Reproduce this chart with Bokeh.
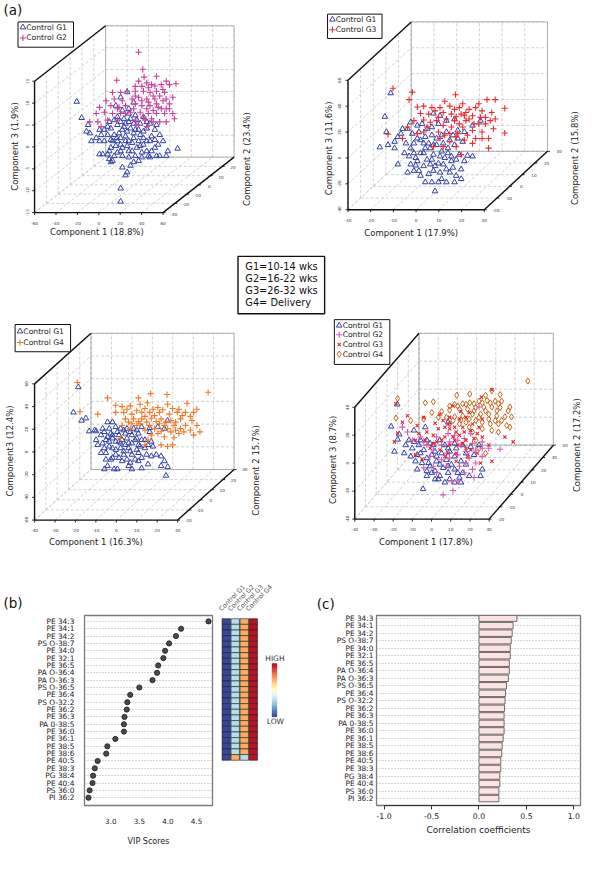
import numpy as np
from bokeh.plotting import figure
from bokeh.layouts import column, row
from bokeh.models import Range1d, FixedTicker, NumeralTickFormatter, ColumnDataSource, LinearColorMapper
from bokeh.core.properties import value
from bokeh.transform import transform
from bokeh.embed import file_html
from bokeh.resources import INLINE

FONT = value("DejaVu Sans")

# ---------------------------------------------------------------- data (b), (c)
lipids = ["PE 34:3", "PE 34:1", "PE 34:2", "PS O-38:7", "PE 34:0", "PE 32:1", "PE 36:5",
          "PA O-36:4", "PA O-36:3", "PS O-36:5", "PE 36:4", "PS O-32:2", "PE 36:2", "PE 36:3",
          "PA 0-38:5", "PE 36:0", "PE 36:1", "PE 38:5", "PE 38:6", "PE 40:5", "PE 38:3",
          "PG 38:4", "PE 40:4", "PS 36:0", "PI 36:2"]
vip_scores = [4.71, 4.23, 4.14, 4.02, 3.95, 3.92, 3.83, 3.81, 3.73, 3.50, 3.34, 3.29, 3.28,
              3.24, 3.23, 3.23, 3.08, 2.94, 2.92, 2.77, 2.72, 2.69, 2.68, 2.63, 2.61]
corr_coef = [0.40, 0.36, 0.35, 0.34, 0.33, 0.33, 0.32, 0.32, 0.31, 0.29, 0.28, 0.275, 0.27,
             0.265, 0.265, 0.265, 0.255, 0.245, 0.24, 0.23, 0.23, 0.22, 0.22, 0.21, 0.21]
vip_ticks = [3.0, 3.5, 4.0, 4.5]
corr_ticks = [-1.0, -0.5, 0.0, 0.5, 1.0]
heat_groups = ["Control G1", "Control G2", "Control G3", "Control G4"]
# relative level (0 = low, 1 = high)
heat_g1 = [0.03, 0.03, 0.03, 0.03, 0.03, 0.03, 0.03, 0.03, 0.03, 0.03, 0.03, 0.03, 0.03,
           0.03, 0.03, 0.03, 0.03, 0.03, 0.03, 0.03, 0.03, 0.03, 0.03, 0.03, 0.03]
heat_g2 = [0.32, 0.32, 0.32, 0.32, 0.32, 0.32, 0.32, 0.32, 0.32, 0.32, 0.32, 0.32, 0.32,
           0.32, 0.32, 0.32, 0.32, 0.32, 0.32, 0.32, 0.32, 0.32, 0.32, 0.32, 0.70]
heat_g3 = [0.70, 0.70, 0.70, 0.70, 0.70, 0.70, 0.70, 0.70, 0.70, 0.70, 0.70, 0.70, 0.70,
           0.70, 0.70, 0.70, 0.70, 0.70, 0.70, 0.70, 0.70, 0.70, 0.70, 0.70, 0.32]
heat_g4 = [0.96, 0.96, 0.96, 0.96, 0.96, 0.96, 0.96, 0.96, 0.96, 0.96, 0.96, 0.96, 0.96,
           0.96, 0.96, 0.96, 0.96, 0.96, 0.96, 0.96, 0.96, 0.96, 0.96, 0.96, 0.96]

# ---------------------------------------------------------------- data (a): scores (Component 1, Component 3)
p1_g1 = [(-53.8, 4.0), (-49.2, 0.3), (-6.7, 6.2), (-12.8, 5.0), (-17.3, 3.1), (-0.6, 3.8), (-23.4, -0.6),
         (-15.8, 0.5), (-9.7, 0.1), (-5.2, 1.3), (0.9, 0.9), (8.5, 0.5), (5.5, -1.0), (-0.6, -1.0),
         (-8.2, -1.0), (-15.8, -1.3), (-21.9, -2.1), (-11.2, -2.4), (-3.6, -2.1), (4.0, -2.4), (11.6, -2.1),
         (19.2, -2.4), (20.7, -1.3), (-43.2, -1.3), (-44.7, -2.8), (-41.6, -3.2), (-35.6, -4.3), (-32.5, -5.0),
         (-40.1, -5.0), (-29.5, -8.0), (-32.5, -8.0), (-23.4, -7.3), (-21.9, -4.7), (-18.8, -3.6), (-15.8, -5.0),
         (-12.8, -4.3), (-8.2, -3.9), (-5.2, -5.0), (-0.6, -4.3), (4.0, -5.0), (8.5, -4.3), (14.6, -5.0),
         (19.2, -4.7), (26.8, -5.0), (40.4, -6.7), (31.3, -7.3), (11.6, -7.3), (7.0, -7.6), (2.4, -6.5),
         (-2.1, -7.3), (-6.7, -6.1), (-11.2, -6.5), (-15.8, -7.6), (-18.8, -8.4), (-23.4, -9.1), (-20.4, -9.5),
         (-11.2, -8.4), (-5.2, -8.7), (0.9, -8.4), (7.0, -8.7), (13.1, -8.4), (20.7, -8.4), (23.7, -8.4),
         (-0.6, -9.8), (-3.6, -10.6), (-6.7, -12.1), (-8.2, -12.8), (-11.2, -11.0), (-12.8, -15.8), (-12.8, -18.8),
         (-21.9, -9.8), (22.2, -5.8), (16.1, -7.3), (8.5, -5.8), (-12.8, -5.8), (-3.6, 0.1), (11.6, -0.6),
         (-28.0, -2.4), (-9.7, -1.7), (-6.7, -2.8), (-14.3, -3.2), (-0.6, -3.2), (5.5, -3.6),
         (-18.8, -0.2), (-12.8, -0.6), (-5.2, -0.6), (2.4, -0.2), (14.6, -1.0), (-24.9, -3.6), (-20.4, -5.0),
         (-17.3, -6.1), (-8.2, -5.0), (-2.1, -5.4), (11.6, -5.0), (16.1, -3.9), (5.5, -6.1), (-5.2, -7.3),
         (-12.8, -7.3), (-21.9, -6.5), (-28.0, -5.0), (-31.0, -3.6), (-24.9, -1.7), (-32.5, -2.4), (19.2, -6.5),
         (14.6, -8.7), (29.8, -8.4), (4.0, -9.5), (-24.9, -8.0), (-16.4, -4.3), (0.9, -2.4), (8.5, -2.8),
         (23.7, -3.6), (-5.2, 2.4), (-11.2, 2.0)]
p1_g2 = [(4.0, 15.3), (7.9, 11.4), (-16.4, 8.9), (9.1, 9.6), (20.7, 9.8), (29.8, 8.7), (38.9, 8.1), (11.6, 8.3),
         (0.9, 7.5), (7.0, 7.5), (16.1, 7.9), (25.2, 7.9), (32.8, 7.9), (-20.4, 6.1), (-12.8, 6.1), (-6.7, 6.4),
         (0.9, 6.4), (8.5, 6.4), (14.6, 6.1), (20.7, 6.4), (28.3, 6.1), (35.9, 5.0), (-26.4, 4.2), (-18.8, 4.6),
         (-11.2, 4.2), (-2.1, 4.6), (4.0, 5.0), (11.6, 4.6), (19.2, 4.6), (26.8, 4.2), (32.8, 3.5), (-32.5, 2.7),
         (-21.9, 3.1), (-14.3, 2.7), (-8.2, 3.1), (0.9, 3.5), (7.0, 3.1), (14.6, 3.1), (22.2, 2.7), (29.8, 2.4),
         (35.9, 1.3), (37.4, 0.1), (-35.6, 1.3), (-28.0, 1.6), (-20.4, 1.3), (-12.8, 1.3), (-3.6, 1.6), (5.5, 1.6),
         (13.1, 1.3), (20.7, 1.3), (28.3, 1.3), (-41.6, -0.6), (-34.0, -0.6), (-24.9, -0.2), (-15.8, -0.2),
         (0.9, -0.2), (10.0, -0.2), (17.6, -0.6), (23.7, -0.6), (29.8, -0.6), (-31.0, -1.7), (11.6, -1.7),
         (2.4, -1.3), (4.0, 8.7), (13.1, 7.2), (19.2, 7.6), (26.7, 6.8), (0.9, 5.3), (7.0, 4.2), (13.1, 3.9),
         (17.6, 5.3), (23.7, 5.3), (29.8, 4.6), (11.6, 2.4), (17.6, 2.0), (25.2, 2.4), (8.5, 0.5), (16.1, 0.1),
         (-8.2, 1.3), (-15.8, 2.4), (32.8, 2.4), (-0.6, 2.4), (20.7, 3.5)]
p2_g1 = [(-25.1, 27.5), (-27.7, 9.3), (-27.0, -2.5), (-29.9, -14.3), (-26.3, -12.5), (-23.4, -10.0), (-22.0, -6.3),
         (-19.9, 0.0), (-17.7, 0.0), (-16.3, 5.0), (-13.4, 2.5), (-11.3, 3.8), (-9.1, 0.0), (-7.0, 1.3),
         (-4.1, 3.8), (-0.6, 6.3), (3.0, 7.5), (-3.4, 10.0), (-6.3, 11.8), (-22.0, -27.5), (-17.0, -21.3),
         (-14.1, -22.5), (-12.0, -18.8), (-9.9, -15.0), (-8.4, -11.3), (-6.3, -12.5), (-4.9, -7.5), (-12.0, -8.8),
         (-14.9, -11.3), (-16.3, -15.0), (-9.9, -6.3), (-7.0, -5.0), (-2.7, -5.0), (-0.6, -2.5), (2.3, -5.0),
         (4.4, -7.5), (3.0, -12.5), (0.1, -15.0), (-2.7, -17.5), (-6.3, -20.0), (-9.1, -23.8), (-10.6, -28.8),
         (-12.7, -32.5), (-14.9, -32.5), (-17.7, -33.8), (-14.1, -28.3), (-7.7, -27.5), (-4.1, -26.8),
         (-1.3, -22.5), (1.6, -21.3), (5.1, -20.0), (8.7, -20.8), (10.9, -21.3), (-8.4, -35.0), (-6.3, -32.5),
         (-3.4, -33.8), (-0.6, -31.3), (2.3, -30.0), (3.7, -36.3), (-9.9, -41.3), (-7.0, -41.3), (-2.7, -38.8),
         (-0.6, -41.3), (3.0, -41.3), (5.9, -38.8), (-5.6, -48.3), (1.6, -25.0), (-18.4, -11.3), (6.6, -10.0),
         (-12.7, -2.5), (7.3, -2.5), (10.9, 2.5), (14.4, 6.3), (4.4, -1.3),
         (-15.6, -3.8), (-13.4, -7.5), (-10.6, -11.3), (-7.7, -15.0), (-4.9, -12.5), (-2.0, -11.3), (0.9, -8.8),
         (-10.6, -18.8), (-7.0, -23.8), (-3.4, -21.3), (0.1, -18.8), (3.7, -23.8), (7.3, -25.0), (-13.4, -25.0),
         (-16.3, -27.5), (-5.6, -28.8), (-2.0, -27.5), (0.9, -33.8), (5.9, -31.3), (-4.1, -41.3), (-12.0, -36.3),
         (-14.9, -18.8), (-19.1, -18.8), (-23.4, -15.0), (-20.6, -3.8)]
p2_g3 = [(-24.1, 31.3), (-15.6, 28.3), (-17.0, 22.5), (-1.3, 21.3), (3.4, 26.3), (6.6, 19.3), (13.7, 19.3),
         (17.3, 22.5), (20.9, 22.5), (25.1, 15.8), (-13.4, 16.8), (-10.6, 17.5), (-7.0, 16.3), (-3.4, 16.3),
         (0.9, 17.5), (5.1, 16.3), (9.4, 15.0), (15.1, 13.8), (19.4, 12.5), (-12.0, 11.8), (-8.4, 11.3),
         (-2.0, 12.5), (1.6, 11.3), (5.9, 11.3), (10.9, 10.0), (14.4, 8.8), (18.7, 6.3), (-14.9, 6.3),
         (-10.6, 6.8), (-4.9, 6.3), (-0.6, 7.5), (3.0, 6.3), (8.0, 6.3), (11.6, 3.8), (16.6, 3.8), (25.1, -3.3),
         (-9.1, 1.3), (-2.0, 2.5), (1.6, 1.3), (6.6, 1.3), (10.9, -1.3), (15.1, -2.5), (18.0, -7.5),
         (-26.3, -4.3), (-19.9, -7.5), (-10.6, -2.5), (-4.1, -2.5), (0.9, -3.8), (4.4, -3.8), (8.7, -5.0),
         (12.3, -7.5), (-3.4, -7.5), (0.9, -10.0), (-2.0, -13.8), (3.7, -13.8), (18.0, -15.0), (5.9, -20.0),
         (-6.3, -13.8), (-13.4, -3.8), (-17.7, 1.3), (20.1, 0.0), (7.3, 10.0), (3.7, 9.3),
         (-5.6, 13.8), (3.0, 15.0), (12.3, 16.3), (8.0, 12.5), (13.7, 3.8), (5.1, 3.8), (-4.1, 8.8), (-7.7, 5.0),
         (9.4, 7.5), (16.6, 8.8), (3.7, -6.3), (7.3, -8.8), (10.9, -11.3), (15.1, -7.5), (-1.3, -5.0), (20.9, 7.5)]
p3_g1 = [(-32.4, 34.9), (-34.8, 12.6), (-30.8, 5.4), (-28.7, 7.4), (-27.1, -4.0), (-24.4, -3.1), (-23.7, -4.0),
         (-18.1, 4.0), (-15.7, 4.0), (-20.5, -1.7), (-17.3, -1.7), (-14.1, -0.3), (-11.7, -1.7), (-8.6, -1.7),
         (-5.4, -1.7), (-1.4, -0.3), (2.5, -1.1), (6.5, -0.3), (11.3, 5.4), (9.7, -1.7), (-21.3, -7.4),
         (-18.1, -8.9), (-15.7, -7.4), (-12.5, -7.4), (-9.4, -6.0), (-6.2, -7.4), (-3.0, -6.0), (-20.5, -14.6),
         (-17.3, -13.1), (-14.1, -13.1), (-11.0, -11.7), (-7.8, -14.6), (-4.6, -11.7), (-1.4, -11.7), (3.3, -13.1),
         (-19.7, -18.9), (-15.7, -18.9), (-11.7, -18.9), (-7.8, -18.9), (-3.8, -20.3), (0.2, -18.9), (4.1, -17.4),
         (-18.9, -23.1), (-14.1, -24.6), (-10.2, -24.6), (-6.2, -24.6), (-1.4, -27.4), (3.3, -26.0), (8.1, -26.0),
         (-16.5, -28.9), (-11.0, -30.3), (-7.0, -31.7), (-3.0, -30.3), (-19.7, -37.4), (-14.9, -37.4),
         (-13.3, -37.4), (-7.8, -34.6), (-6.2, -37.4), (-1.4, -36.6), (8.1, -34.6), (11.3, -35.4), (9.7, -30.3),
         (10.5, -43.1), (-18.1, -34.6), (-11.7, -14.6), (-8.6, -10.3), (-2.2, -17.4), (1.0, -24.6), (2.5, -4.6),
         (-3.8, -10.3), (-23.7, -11.7),
         (-19.7, -4.6), (-16.5, -6.0), (-13.3, -4.6), (-10.2, -3.1), (-7.0, -4.6), (-3.8, -3.1), (-18.9, -11.7),
         (-15.7, -10.3), (-12.5, -13.1), (-9.4, -16.0), (-6.2, -14.6), (-3.0, -16.0), (-17.3, -17.4),
         (-14.1, -20.3), (-10.2, -21.7), (-7.0, -21.7), (-3.0, -23.1), (-15.7, -27.4), (-12.5, -27.4),
         (-8.6, -28.9), (-4.6, -28.9), (1.7, -16.0), (0.2, -11.7), (5.7, -24.6), (-21.3, -23.1), (-22.9, -16.0),
         (-18.9, -28.9), (1.7, -33.1)]
p3_g4 = [(-32.9, 38.9), (-18.1, 25.4), (-3.0, 25.4), (3.0, 29.1), (11.0, 28.3), (-14.1, 18.9), (-11.0, 17.7),
         (-7.0, 18.3), (-2.2, 19.7), (1.4, 21.1), (6.5, 16.9), (11.3, 19.7), (16.8, 15.4), (20.8, 20.6),
         (25.6, 15.4), (31.1, 30.3), (-22.9, 11.1), (-31.6, 13.1), (-14.1, 12.6), (-10.2, 12.6), (-6.2, 11.1),
         (-1.4, 12.6), (2.5, 12.6), (7.3, 12.6), (12.1, 11.1), (16.0, 12.6), (20.0, 12.6), (24.0, 12.6),
         (-9.4, 6.9), (-5.4, 6.9), (-1.4, 6.9), (3.3, 7.4), (8.1, 6.9), (12.9, 5.4), (17.6, 6.9), (23.2, 5.4),
         (-11.0, 1.1), (-6.2, 2.6), (-2.2, 2.6), (2.5, 1.1), (7.3, 2.6), (11.3, -1.7), (15.2, -3.1), (19.2, -4.6),
         (22.4, -3.1), (27.1, -4.6), (24.0, -7.4), (-7.0, -1.7), (4.9, -1.7), (8.1, -4.0), (12.9, -4.6),
         (16.8, -6.0), (3.3, -7.4), (1.7, -11.7), (8.1, -16.0), (11.3, -17.4), (13.7, -16.0), (0.2, -16.0),
         (-11.7, -10.3), (-3.8, 1.1), (9.7, 1.1), (14.4, 1.1), (0.2, -3.1),
         (-8.6, 15.4), (-3.8, 14.0), (0.2, 16.0), (4.1, 15.4), (8.9, 14.9), (13.7, 16.0), (18.4, 9.7), (22.4, 9.1),
         (-7.8, 4.0), (-3.0, 4.6), (1.0, 4.0), (5.7, 4.6), (10.5, 4.0), (15.2, 4.0), (20.0, 1.1), (6.5, -6.0),
         (9.7, -8.9), (14.4, -9.7), (17.6, -1.7), (25.6, 1.1), (4.9, 9.7), (0.2, 9.1)]
p4_g1 = [(-37.8, -0.2), (-33.6, -5.8), (-34.4, -9.5), (-30.2, -13.5), (-36.1, -18.1), (-31.0, -19.3),
         (-26.8, -15.8), (-25.9, -11.2), (-23.4, -13.5), (-20.8, -17.0), (-24.2, -20.5), (-25.1, -25.1),
         (-21.7, -26.3), (-19.2, -22.8), (-16.6, -20.5), (-14.1, -21.6), (-11.5, -19.3), (-14.1, -25.1),
         (-17.5, -28.6), (-19.2, -32.1), (-14.9, -32.1), (-12.4, -35.6), (-8.1, -33.3), (-10.7, -29.8),
         (-6.4, -27.4), (-9.0, -24.0), (-4.7, -21.6), (-1.4, -25.1), (1.2, -27.4), (-3.1, -33.3), (-4.7, -40.2),
         (-1.4, -40.2), (-9.8, -40.2), (-14.9, -37.9), (-21.2, -44.9), (-16.6, -33.3), (-12.4, -10.0),
         (-15.8, -13.5), (-19.2, -10.0), (-8.1, -15.8), (-4.7, -12.3), (-0.5, -13.5), (3.7, -14.7), (8.0, -13.5),
         (5.4, -20.5), (9.7, -30.9), (8.8, -35.6), (-20.0, -0.7), (-8.1, 2.8), (-25.9, -3.0), (-34.6, 15.6),
         (-28.5, -10.0), (-22.5, -10.0), (-17.5, -12.3), (-14.9, -18.1), (-9.8, -13.5), (-7.3, -18.1),
         (-3.9, -15.8), (1.2, -19.3), (-27.6, -21.6), (-22.5, -19.3), (-18.3, -26.3), (-12.4, -27.4),
         (-8.1, -28.6), (-4.7, -30.9), (-0.5, -33.3), (2.9, -35.6), (-13.2, -37.9), (-7.3, -37.9), (-2.2, -36.7),
         (-19.2, -35.6), (-24.2, -30.9)]
p4_g2 = [(8.0, 13.7), (-31.9, -0.7), (-29.3, -4.2), (-22.5, -7.7), (-19.2, -13.5), (-15.8, -17.0), (-11.5, -13.5),
         (-7.3, -11.2), (-3.1, -10.0), (0.3, -8.8), (4.6, -12.3), (9.7, -15.8), (13.1, -15.8), (19.0, -16.5),
         (-11.5, -24.0), (-7.3, -22.8), (-3.1, -20.5), (2.9, -22.8), (6.3, -26.3), (0.3, -33.3), (4.6, -30.9),
         (-15.8, -28.6), (-20.8, -29.8), (-6.4, -39.1), (-3.1, -39.1), (5.4, -36.7), (-5.6, -46.0), (9.7, -11.2),
         (1.2, -18.1), (-9.0, -28.6), (-17.5, -21.6), (-26.8, -10.0), (3.7, -5.3), (-8.1, -5.3), (-10.7, -49.1),
         (-20.8, -11.2), (-14.1, -7.7), (-4.7, -6.5), (-1.4, -13.5), (6.3, -17.0), (-9.0, -19.3), (-14.1, -33.3),
         (-2.2, -28.6), (9.7, -21.6), (1.2, -26.3)]
p4_g3 = [(-35.3, 16.0), (-29.3, 7.4), (-31.9, 2.8), (-36.1, -11.2), (-34.4, -4.9), (-24.2, 0.5), (-20.8, 6.3),
         (-14.9, 2.1), (-10.7, 4.0), (-5.6, 14.4), (9.3, 20.7), (14.7, 26.0), (-2.2, 5.1), (1.2, 6.3),
         (-9.8, -0.7), (-7.3, -1.9), (-4.7, -0.7), (-0.5, -0.7), (3.7, -3.0), (7.1, -5.3), (-19.2, -4.2),
         (-15.8, -6.5), (-23.4, -5.3), (-25.1, -10.0), (-20.0, -10.0), (-14.1, -11.2), (-9.8, -7.7), (-5.6, -7.7),
         (-2.2, -6.5), (1.2, -10.0), (5.4, -8.8), (-7.3, -13.5), (-3.1, -13.5), (1.2, -15.8), (-17.5, -15.8),
         (-12.4, -17.0), (-8.1, -19.3), (-3.9, -19.3), (2.0, -21.6), (7.1, -19.3), (8.8, -26.3), (-3.9, -25.1),
         (14.7, -25.1), (25.8, -11.2), (21.5, -7.7), (-25.1, -20.5), (-21.7, -23.5), (9.7, 5.1), (-12.4, 8.6),
         (-1.4, 10.5), (-13.2, -1.9), (-8.1, 1.6), (-3.9, -4.2), (0.3, -4.2), (4.6, 1.6), (8.0, -0.7),
         (-11.5, -10.0), (-0.5, -12.3), (3.7, -17.0), (-9.8, -21.6), (-4.7, -10.0), (-15.8, -12.3), (9.7, -7.7),
         (13.1, -13.5), (-7.3, 6.3), (2.9, 9.8)]
p4_g4 = [(33.4, 32.3), (14.7, 25.3), (-3.6, 22.1), (3.2, 23.0), (11.4, 22.1), (19.0, 22.6), (-20.0, 16.7),
         (-15.8, 17.4), (-34.4, 19.8), (-4.7, 15.6), (-0.5, 16.0), (3.2, 16.7), (8.0, 17.9), (12.2, 18.4),
         (16.4, 17.9), (19.8, 17.9), (24.1, 13.7), (-16.6, 9.8), (-11.5, 10.5), (-7.3, 11.4), (-2.2, 12.1),
         (2.0, 12.1), (6.3, 13.3), (10.5, 13.7), (14.7, 13.7), (19.0, 13.3), (23.2, 10.9), (-35.3, 5.8),
         (-27.6, 4.0), (-20.8, 5.1), (-13.2, 6.3), (-9.0, 6.3), (-4.7, 6.7), (-0.5, 7.4), (4.6, 8.6), (8.8, 8.6),
         (13.1, 8.6), (17.3, 7.4), (21.5, 6.7), (24.9, 6.7), (1.2, 2.8), (6.3, 4.0), (9.7, 2.8), (13.9, 1.6),
         (18.1, 1.6), (22.4, 0.5), (9.7, -1.9), (14.7, -3.0), (18.1, -4.2), (4.6, -4.2), (6.3, -10.0),
         (8.0, -15.8), (11.4, -19.3), (24.1, -0.7), (2.9, -0.7), (-2.2, 1.6), (-7.3, 1.6),
         (-7.3, 14.4), (-3.1, 14.4), (1.2, 15.6), (5.4, 16.0), (9.7, 16.7), (13.9, 16.7), (18.1, 16.0),
         (-5.6, 4.0), (-1.4, 4.4), (2.9, 5.1), (8.0, 6.3), (13.1, 5.1), (16.4, 4.0), (19.8, 4.0), (11.4, 10.9),
         (17.3, 10.9), (5.4, 10.9)]
stage_key = ["G1=10-14 wks", "G2=16-22 wks", "G3=26-32 wks", "G4= Delivery"]

# ---------------------------------------------------------------- 3-D panel geometry (reference pixels)
PANELS = [
    dict(O=(35, 218), EX=132, EZ=135, ED=(73, -57), r1=(-60, 60), r2=(-30, 30), r3=(-15, 15),
         t1=[-60, -40, -20, 0, 20, 40, 60], t2=[-30, -20, -10, 0, 10, 20], t3=[-15, -10, -5, 0, 5, 10, 15],
         d1=11, d3=8, d2=(11, 1),
         titles=[("Component 1 (18.8%)", 99, 238, 0), ("Component 3 (1.9%)", 15, 150, 1),
                 ("Component 2 (23.4%)", 253, 163, 1)]),
    dict(O=(357, 215), EX=140, EZ=133, ED=(65, -60), r1=(-30, 30), r2=(-20, 30), r3=(-40, 60),
         t1=[-30, -20, -10, 0, 10, 20, 30], t2=[-20, -10, 0, 10, 20, 30], t3=[-40, -20, 0, 20, 40, 60],
         d1=11, d3=9, d2=(12, 0),
         titles=[("Component 1 (17.9%)", 422, 239, 0), ("Component 3 (11.6%)", 337, 152, 1),
                 ("Component 2 (15.8%)", 590, 162, 1)]),
    dict(O=(35, 534), EX=147, EZ=140, ED=(58, -52), r1=(-40, 30), r2=(-20, 30), r3=(-60, 60),
         t1=[-40, -30, -20, -10, 0, 10, 20, 30], t2=[-20, -10, 0, 10, 20, 30], t3=[-60, -40, -20, 0, 20, 40, 60],
         d1=10, d3=9, d2=(11, 0),
         titles=[("Component 1 (16.3%)", 98, 557, 0), ("Component3 (12.4%)", 10, 463, 1),
                 ("Component 2 15.7%)", 263, 483, 1)]),
    dict(O=(364, 533), EX=138, EZ=115, ED=(66, -76), r1=(-40, 30), r2=(-20, 40), r3=(-40, 40),
         t1=[-40, -30, -20, -10, 0, 10, 20, 30], t2=[-20, -10, 0, 10, 20, 30, 40], t3=[-40, -20, 0, 20, 40],
         d1=10, d3=8, d2=(12, 0),
         titles=[("Component 1 (17.8%)", 437, 557, 0), ("Component 3 (8.7%)", 342, 472, 1),
                 ("Component 2 (17.2%)", 592, 457, 1)]),
]

BLUE = "#3242A8"
STY = {
    "G1": dict(marker="triangle", size=5.6, line_color=BLUE, fill_color=None, line_width=1.0),
    "G2": dict(marker="cross", size=6.2, line_color="#C8409F", line_width=1.1),
    "G2b": dict(marker="cross", size=6.2, line_color="#D45BB8", line_width=1.1),
    "G3p": dict(marker="cross", size=6.2, line_color="#F02A30", line_width=1.1),
    "G3x": dict(marker="x", size=4.6, line_color="#E8262C", line_width=1.1),
    "G4p": dict(marker="cross", size=6.2, line_color="#F07828", line_width=1.1),
    "G4d": dict(marker="diamond", size=6.2, line_color="#C8661C", fill_color=None, line_width=1.0),
}


def project(P, c1, c2, c3):
    c1 = np.asarray(c1, float)
    c3 = np.asarray(c3, float)
    u = (c1 - P["r1"][0]) / (P["r1"][1] - P["r1"][0])
    v = (np.asarray(c2, float) - P["r2"][0]) / (P["r2"][1] - P["r2"][0])
    w = (c3 - P["r3"][0]) / (P["r3"][1] - P["r3"][0])
    ox, oy = P["O"]
    return ox + u * P["EX"] + v * P["ED"][0], oy - w * P["EZ"] + v * P["ED"][1]


def pt(P, a, b, c):
    x, y = project(P, a, b, c)
    return float(x), float(y)


def txt(p, x, y, s, size, color="#222222", align="left", baseline="middle", angle=0.0):
    p.text(x=[x], y=[y], text=[s], text_font=FONT, text_font_size=value(f"{size}px"),
           text_color=color, text_align=align, text_baseline=baseline, angle=angle)


def canvas(w, h, xr, yr):
    p = figure(width=w, height=h, x_range=xr, y_range=yr, output_backend="svg",
               toolbar_location=None, x_axis_location=None, y_axis_location=None,
               min_border=0, title=None)
    p.outline_line_color = None
    p.grid.visible = False
    return p


def draw_box(p, P):
    a0, a1 = P["r1"]
    b0, b1 = P["r2"]
    c0, c1 = P["r3"]
    segs = []
    for t in P["t1"]:
        segs.append((pt(P, t, b1, c0), pt(P, t, b1, c1)))     # back wall verticals
        segs.append((pt(P, t, b0, c0), pt(P, t, b1, c0)))     # floor depth lines
    for t in P["t3"]:
        segs.append((pt(P, a0, b1, t), pt(P, a1, b1, t)))     # back wall horizontals
        segs.append((pt(P, a0, b0, t), pt(P, a0, b1, t)))     # left wall depth lines
    for t in P["t2"]:
        segs.append((pt(P, a0, t, c0), pt(P, a0, t, c1)))     # left wall verticals
        segs.append((pt(P, a0, t, c0), pt(P, a1, t, c0)))     # floor horizontals
    p.multi_line([[s[0][0], s[1][0]] for s in segs], [[s[0][1], s[1][1]] for s in segs],
                 line_color="#c6c6c6", line_dash="3 2", line_width=0.8)
    back = [pt(P, a0, b1, c0), pt(P, a1, b1, c0), pt(P, a1, b1, c1), pt(P, a0, b1, c1), pt(P, a0, b1, c0)]
    p.line([q[0] for q in back], [q[1] for q in back], line_color="#a8a8a8", line_width=0.9)
    edges = [(pt(P, a0, b0, c0), pt(P, a0, b0, c1)), (pt(P, a0, b0, c0), pt(P, a1, b0, c0)),
             (pt(P, a1, b0, c0), pt(P, a1, b1, c0)), (pt(P, a0, b0, c1), pt(P, a0, b1, c1))]
    p.multi_line([[e[0][0], e[1][0]] for e in edges], [[e[0][1], e[1][1]] for e in edges],
                 line_color="#111111", line_width=1.4)
    tx, ty = [], []
    for t in P["t1"]:
        x, y = pt(P, t, b0, c0)
        tx.append([x, x]); ty.append([y, y + 2.5])
        txt(p, x, y + P["d1"], str(t), 4.2, "#333333", "center", "middle")
    for t in P["t3"]:
        x, y = pt(P, a0, b0, t)
        tx.append([x, x - 2.5]); ty.append([y, y])
        txt(p, x - P["d3"], y, str(t), 4.2, "#333333", "center", "middle", np.pi / 2)
    for t in P["t2"]:
        x, y = pt(P, a1, t, c0)
        tx.append([x, x + 2.5]); ty.append([y, y])
        txt(p, x + P["d2"][0], y + P["d2"][1], str(t), 4.2, "#333333", "center", "middle")
    p.multi_line(tx, ty, line_color="#111111", line_width=0.9)
    for (s, x, y, rot) in P["titles"]:
        txt(p, x, y, s, 8.5, "#222222", "center", "middle", np.pi / 2 if rot else 0.0)


def draw_points(p, P, pts, sty):
    c2 = 0.5 * (P["r2"][0] + P["r2"][1])   # depth (Component 2) placed at mid-range
    x, y = project(P, [a for a, b in pts], c2, [b for a, b in pts])
    p.scatter(x=x, y=y, **sty)


def draw_legend(p, box, items):
    x0, y0, x1, y1 = box
    p.quad(left=[x0], right=[x1], top=[y0], bottom=[y1], fill_color="white", line_color="#111111", line_width=1.0)
    for (label, key, yy) in items:
        p.scatter(x=[x0 + 5], y=[yy], **STY[key])
        txt(p, x0 + 8.5, yy, label, 7.6)


# ---------------------------------------------------------------- figure (a) (+ headings of (b) and (c))
W = 584
SC = W / 600.0
YSPLIT = 630                                  # reference row where the lower panels start
pa = canvas(W, int(round(YSPLIT * SC)), Range1d(0, 600), Range1d(YSPLIT, 0))
txt(pa, 3, 2, "(a)", 13.5, "#111111", "left", "top")

P1, P2, P3, P4 = PANELS
for P in PANELS:
    draw_box(pa, P)

draw_points(pa, P1, p1_g1, STY["G1"])
draw_points(pa, P1, p1_g2, STY["G2"])
draw_legend(pa, (18, 22, 75, 48), [("Control G1", "G1", 27.5), ("Control G2", "G2", 38.5)])

draw_points(pa, P2, p2_g1, STY["G1"])
draw_points(pa, P2, p2_g3, STY["G3p"])
draw_legend(pa, (336, 14, 392, 39), [("Control G1", "G1", 19.5), ("Control G3", "G3p", 30)])

draw_points(pa, P3, p3_g1, STY["G1"])
draw_points(pa, P3, p3_g4, STY["G4p"])
draw_legend(pa, (15, 333, 72, 361), [("Control G1", "G1", 340), ("Control G4", "G4p", 351.5)])

draw_points(pa, P4, p4_g4, STY["G4d"])
draw_points(pa, P4, p4_g1, STY["G1"])
draw_points(pa, P4, p4_g2, STY["G2b"])
draw_points(pa, P4, p4_g3, STY["G3x"])
draw_legend(pa, (343, 328, 400, 374), [("Control G1", "G1", 334), ("Control G2", "G2b", 343.5),
                                         ("Control G3", "G3x", 353.5), ("Control G4", "G4d", 363.5)])

pa.quad(left=[244], right=[333], top=[263], bottom=[322], fill_color="white", line_color="#111111", line_width=1.4)
for k, s in enumerate(stage_key):
    txt(pa, 251.5, 273.5 + 12.2 * k, s, 9.8, "#111111")

txt(pa, 3, 611, "(b)", 13.5, "#111111", "left", "top")
txt(pa, 325, 612, "(c)", 13.5, "#111111", "left", "top")
# heat-map column headings (rotated), just above the heat-map columns
HM_X0, HM_DX = 232.0, 9.25
pa.text(x=[HM_X0 + HM_DX * j - 3.5 for j in range(4)], y=[629.5] * 4, text=heat_groups, angle=np.pi / 4,
        text_font=FONT, text_font_size=value("6.4px"), text_color="#555555",
        text_align="left", text_baseline="bottom")

# ---------------------------------------------------------------- palette
ANCH = ["#313695", "#4575b4", "#74add1", "#abd9e9", "#e0f3f8", "#ffffbf",
        "#fee090", "#fdae61", "#f46d43", "#d73027", "#a50026"]
_rgb = np.array([[int(a[i:i + 2], 16) for i in (1, 3, 5)] for a in ANCH], float)
_pos = np.linspace(0, 1, len(ANCH))
PAL = []
for tt in np.linspace(0, 1, 256):
    r, g, b = (np.interp(tt, _pos, _rgb[:, k]) for k in range(3))
    PAL.append("#%02x%02x%02x" % (int(round(r)), int(round(g)), int(round(b))))
mapper = LinearColorMapper(palette=PAL, low=0, high=1)

H = 859 - int(round(YSPLIT * SC))
rows_idx = list(range(len(lipids)))

# ---------------------------------------------------------------- figure (b) VIP
pb = figure(width=216, height=H, x_range=Range1d(2.54, 4.78), y_range=Range1d(24 + 1.06, -0.8),
            output_backend="svg", toolbar_location=None, title=None,
            min_border_left=84, min_border_right=4, min_border_top=2, min_border_bottom=54)
pb.scatter(x=vip_scores, y=rows_idx, size=5.2, fill_color="#4a4a4a", line_color="#1a1a1a", line_width=0.8)
pb.xgrid.grid_line_color = None
pb.ygrid.ticker = FixedTicker(ticks=rows_idx)
pb.ygrid.grid_line_color = "#9a9a9a"
pb.ygrid.grid_line_dash = "1 2"
pb.ygrid.grid_line_width = 0.8
pb.outline_line_color = "#7a7a7a"
pb.outline_line_width = 1.3
pb.yaxis.ticker = FixedTicker(ticks=rows_idx)
pb.yaxis.major_label_overrides = {i: s for i, s in enumerate(lipids)}
pb.xaxis.ticker = FixedTicker(ticks=vip_ticks)
pb.xaxis.formatter = NumeralTickFormatter(format="0.0")
pb.xaxis.axis_label = "VIP Scores"
for ax in (pb.xaxis, pb.yaxis):
    ax.axis_line_color = None
    ax.major_tick_line_color = None
    ax.minor_tick_line_color = None
    ax.major_tick_out = 0
    ax.major_tick_in = 0
    ax.major_label_text_font = "DejaVu Sans"
    ax.major_label_text_color = "#222222"
pb.yaxis.major_label_text_font_size = "7.4px"
pb.yaxis.major_label_standoff = 10
pb.xaxis.major_label_text_font_size = "7.2px"
pb.xaxis.major_label_standoff = 12
pb.xaxis.axis_label_text_font = "DejaVu Sans"
pb.xaxis.axis_label_text_font_size = "8px"
pb.xaxis.axis_label_text_font_style = "normal"
pb.xaxis.axis_label_text_color = "#222222"
pb.xaxis.axis_label_standoff = 10

# ---------------------------------------------------------------- heat map + colour key
ph = canvas(76, H, Range1d(-1.081, 7.351), Range1d(32.49, (YSPLIT - 638) / 7.54))
hx, hy, hv = [], [], []
for j, col in enumerate([heat_g1, heat_g2, heat_g3, heat_g4]):
    for i, v in enumerate(col):
        hx.append(j); hy.append(i); hv.append(v)
ph.rect(x="x", y="y", width=0.93, height=1.0, source=ColumnDataSource(dict(x=hx, y=hy, v=hv)),
        fill_color=transform("v", mapper), line_color="#1e1e1e", line_width=0.6)
n_cb = 64
cb_edges = np.linspace(7.43, 16.84, n_cb + 1)
cb_cols = [PAL[min(255, int((1 - (k + 0.5) / n_cb) * 256))] for k in range(n_cb)]
ph.quad(left=5.08, right=5.62, top=cb_edges[:-1], bottom=cb_edges[1:], fill_color=cb_cols,
        line_color=cb_cols, line_width=0.4)
txt(ph, 5.4, 6.6, "HIGH", 7.5, "#333333", "center", "middle")
txt(ph, 5.45, 17.6, "LOW", 7.5, "#333333", "center", "middle")

# ---------------------------------------------------------------- figure (c) correlation
pc = figure(width=292, height=H, x_range=Range1d(-1.08, 1.07), y_range=Range1d(24 + 0.92, -0.35),
            output_backend="svg", toolbar_location=None, title=None,
            min_border_left=84, min_border_right=4, min_border_top=0, min_border_bottom=33)
pc.hbar(y=rows_idx, left=0, right=corr_coef, height=0.86, fill_color="#FDE2E2",
        line_color="#4a4a4a", line_width=0.8)
pc.xgrid.grid_line_color = None
pc.ygrid.ticker = FixedTicker(ticks=rows_idx)
pc.ygrid.grid_line_color = "#9a9a9a"
pc.ygrid.grid_line_dash = "1 2"
pc.ygrid.grid_line_width = 0.8
pc.ygrid.level = "underlay"
pc.outline_line_color = "#7a7a7a"
pc.outline_line_width = 1.3
pc.yaxis.ticker = FixedTicker(ticks=rows_idx)
pc.yaxis.major_label_overrides = {i: s for i, s in enumerate(lipids)}
pc.yaxis.axis_line_color = None
pc.yaxis.major_tick_line_color = None
pc.yaxis.major_tick_out = 0
pc.yaxis.major_tick_in = 0
pc.yaxis.major_label_standoff = 3
pc.yaxis.major_label_text_font_size = "7.4px"
pc.xaxis.ticker = FixedTicker(ticks=corr_ticks)
pc.xaxis.formatter = NumeralTickFormatter(format="0.0")
pc.xaxis.bounds = (-1.0, 1.0)
pc.xaxis.axis_line_color = "#333333"
pc.xaxis.major_tick_line_color = "#333333"
pc.xaxis.major_tick_out = 4
pc.xaxis.major_tick_in = 0
pc.xaxis.minor_tick_line_color = None
pc.xaxis.major_label_standoff = 3
pc.xaxis.major_label_text_font_size = "7.8px"
pc.xaxis.axis_label = "Correlation coefficients"
pc.xaxis.axis_label_text_font = "DejaVu Sans"
pc.xaxis.axis_label_text_font_size = "9px"
pc.xaxis.axis_label_text_font_style = "normal"
pc.xaxis.axis_label_text_color = "#222222"
pc.xaxis.axis_label_standoff = 3
for ax in (pc.xaxis, pc.yaxis):
    ax.major_label_text_font = "DejaVu Sans"
    ax.major_label_text_color = "#222222"

layout = column(pa, row(pb, ph, pc, spacing=0), spacing=0)
open("out.html", "w").write(file_html(layout, INLINE))
